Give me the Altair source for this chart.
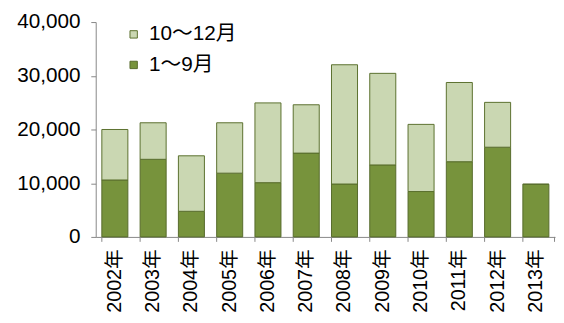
import altair as alt
import pandas as pd

years = ["2002年", "2003年", "2004年", "2005年", "2006年", "2007年",
         "2008年", "2009年", "2010年", "2011年", "2012年", "2013年"]
jan_sep = [10600, 14450, 4770, 11870, 10100, 15600, 9850, 13400, 8450, 14000, 16700, 9800]
oct_dec = [9400, 6800, 10330, 9380, 14850, 9000, 22200, 17050, 12500, 14750, 8350, 0]
series_names = ["10～12月", "1～9月"]
y_ticks = [0, 10000, 20000, 30000, 40000]

rows = []
for y, a, b in zip(years, jan_sep, oct_dec):
    rows.append({"year": y, "series": series_names[1], "value": a, "ord": 0})
    rows.append({"year": y, "series": series_names[0], "value": b, "ord": 1})
df = pd.DataFrame(rows)

FONT = "Liberation Sans, Arial, Noto Sans CJK JP"
W, H = 466, 218

xscale = alt.Scale(domain=years, paddingInner=0.32, paddingOuter=0.16)

bars = alt.Chart(df).mark_bar(strokeWidth=1).encode(
    x=alt.X("year:N", sort=years, scale=xscale,
            axis=alt.Axis(title=None, labelAngle=-90, labelFontSize=20, ticks=False,
                          labelPadding=12, labelColor="#000000", domainColor="#868686",
                          labelFont=FONT)),
    y=alt.Y("value:Q", stack="zero", scale=alt.Scale(domain=[0, 40000], nice=False),
            axis=alt.Axis(title=None, values=y_ticks,
                          labelExpr="format(datum.value, ',')",
                          labelFontSize=21, tickSize=5, labelPadding=11, grid=False,
                          labelColor="#000000", domainColor="#868686", tickColor="#868686",
                          labelFont=FONT)),
    color=alt.Color("series:N",
                    scale=alt.Scale(domain=series_names, range=["#cad7b2", "#77933c"]),
                    legend=alt.Legend(title=None, orient="none", legendX=28, legendY=2,
                                      symbolType="square", symbolSize=56,
                                      symbolStrokeColor="#4f6228", symbolStrokeWidth=1,
                                      labelFontSize=21, labelFont=FONT, labelColor="#000000",
                                      rowPadding=9, labelOffset=5)),
    stroke=alt.Stroke("series:N",
                      scale=alt.Scale(domain=series_names, range=["#5a702e", "#566b2c"]),
                      legend=None),
    order=alt.Order("ord:Q"),
)

ticks = alt.Chart(pd.DataFrame({"year": years})).mark_rule(color="#868686").encode(
    x=alt.X("year:N", sort=years, scale=xscale, bandPosition=0),
    y=alt.value(H),
    y2=alt.value(H + 5),
)
end_tick = alt.Chart(pd.DataFrame({"year": years[:1]})).mark_rule(color="#868686").encode(
    x=alt.value(W - 0.5),
    y=alt.value(H),
    y2=alt.value(H + 5),
)

chart = alt.layer(bars, ticks, end_tick).properties(
    width=W, height=H,
    autosize=alt.AutoSizeParams(type="none"),
    padding={"left": 89, "top": 12, "right": 1, "bottom": 80},
).configure_view(stroke=None)

chart.save("out.html", embed_options={"renderer": "svg", "actions": False})
